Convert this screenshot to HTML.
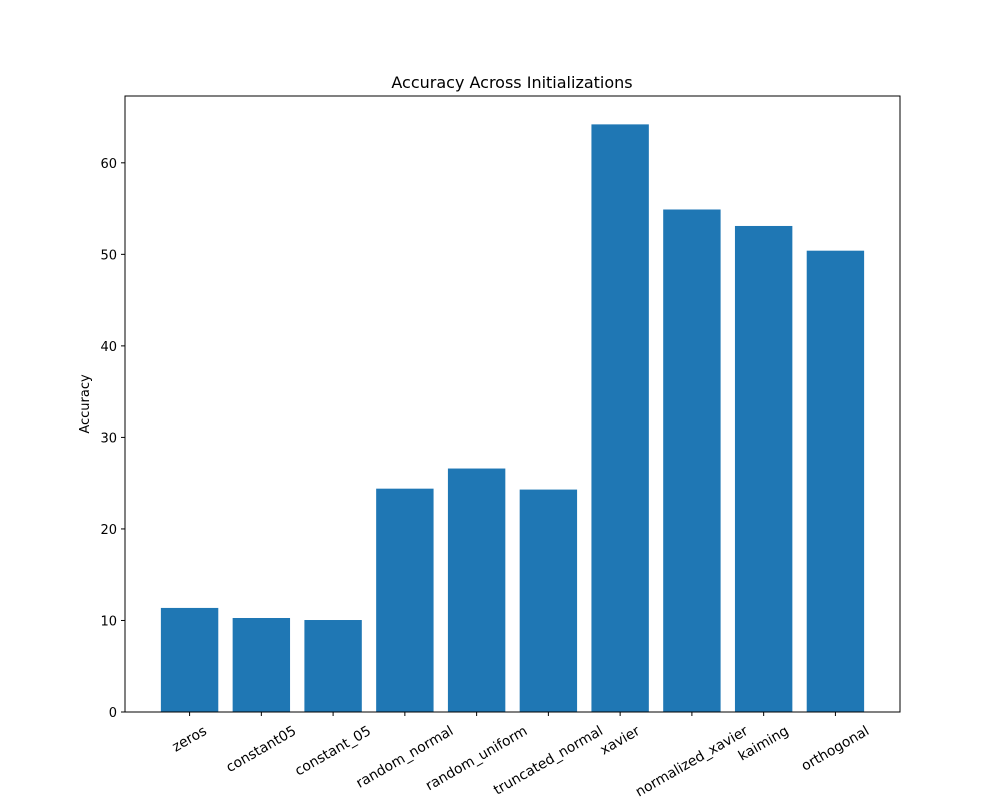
<!DOCTYPE html>
<html><head><meta charset="utf-8"><style>
body{margin:0;background:#fff;font-family:"Liberation Sans","DejaVu Sans",sans-serif;}
svg text{font-family:"DejaVu Sans","Liberation Sans",sans-serif;}
</style></head><body>
<svg id="chart" width="1000" height="800">
<rect x="0" y="0" width="1000" height="800" fill="#fff"/>
<text x="512" y="88" font-size="16" text-anchor="middle">Accuracy Across Initializations</text>
<text transform="translate(89,404) rotate(-90)" font-size="13" text-anchor="middle">Accuracy</text>
<g id="bars"></g><g id="xticks"></g><g id="yticks"></g>
<rect x="125" y="96" width="775" height="616" fill="none" stroke="#000" stroke-width="1"/>
</svg>
<script>
const categories=["zeros","constant05","constant_05","random_normal","random_uniform","truncated_normal","xavier","normalized_xavier","kaiming","orthogonal"];
const accuracy=[11.37,10.27,10.05,24.4,26.6,24.3,64.2,54.9,53.1,50.4];
const yTicks=[0,10,20,30,40,50,60];
const L=125,R=900,T=96,B=712;
const xMin=-0.9,xMax=categories.length-0.1,yMin=0,yMax=67.3;
const x=v=>L+(v-xMin)/(xMax-xMin)*(R-L);
const y=v=>B-(v-yMin)/(yMax-yMin)*(B-T);
const NS="http://www.w3.org/2000/svg";
const bars=document.getElementById('bars'),xt=document.getElementById('xticks'),yt=document.getElementById('yticks');
categories.forEach((c,i)=>{
 const r=document.createElementNS(NS,'rect');
 r.setAttribute('x',x(i-0.4));r.setAttribute('width',x(i+0.4)-x(i-0.4));
 r.setAttribute('y',y(accuracy[i]));r.setAttribute('height',y(0)-y(accuracy[i]));
 r.setAttribute('fill','#1f77b4');
 
 
 bars.appendChild(r);
 const l=document.createElementNS(NS,'line');
 l.setAttribute('x1',x(i));l.setAttribute('x2',x(i));l.setAttribute('y1',B);l.setAttribute('y2',B+4);l.setAttribute('stroke','#000');
 xt.appendChild(l);
 const t=document.createElementNS(NS,'text');
 t.setAttribute('font-size','13.9');t.setAttribute('text-anchor','middle');
 t.setAttribute('dominant-baseline','middle');
 t.textContent=c;
 
 
 xt.appendChild(t);
 const len=t.getComputedTextLength();
 const cy=B+18+len*0.25;
 t.setAttribute('transform',`translate(${x(i)},${cy}) rotate(-30)`);
});
yTicks.forEach(v=>{
 const l=document.createElementNS(NS,'line');
 l.setAttribute('x1',L-4);l.setAttribute('x2',L);l.setAttribute('y1',y(v));l.setAttribute('y2',y(v));l.setAttribute('stroke','#000');
 yt.appendChild(l);
 const t=document.createElementNS(NS,'text');
 t.setAttribute('x',L-8);t.setAttribute('y',y(v)+5);t.setAttribute('font-size','13');t.setAttribute('text-anchor','end');
 t.textContent=v;
 
 
 yt.appendChild(t);
});
</script>
</body></html>
